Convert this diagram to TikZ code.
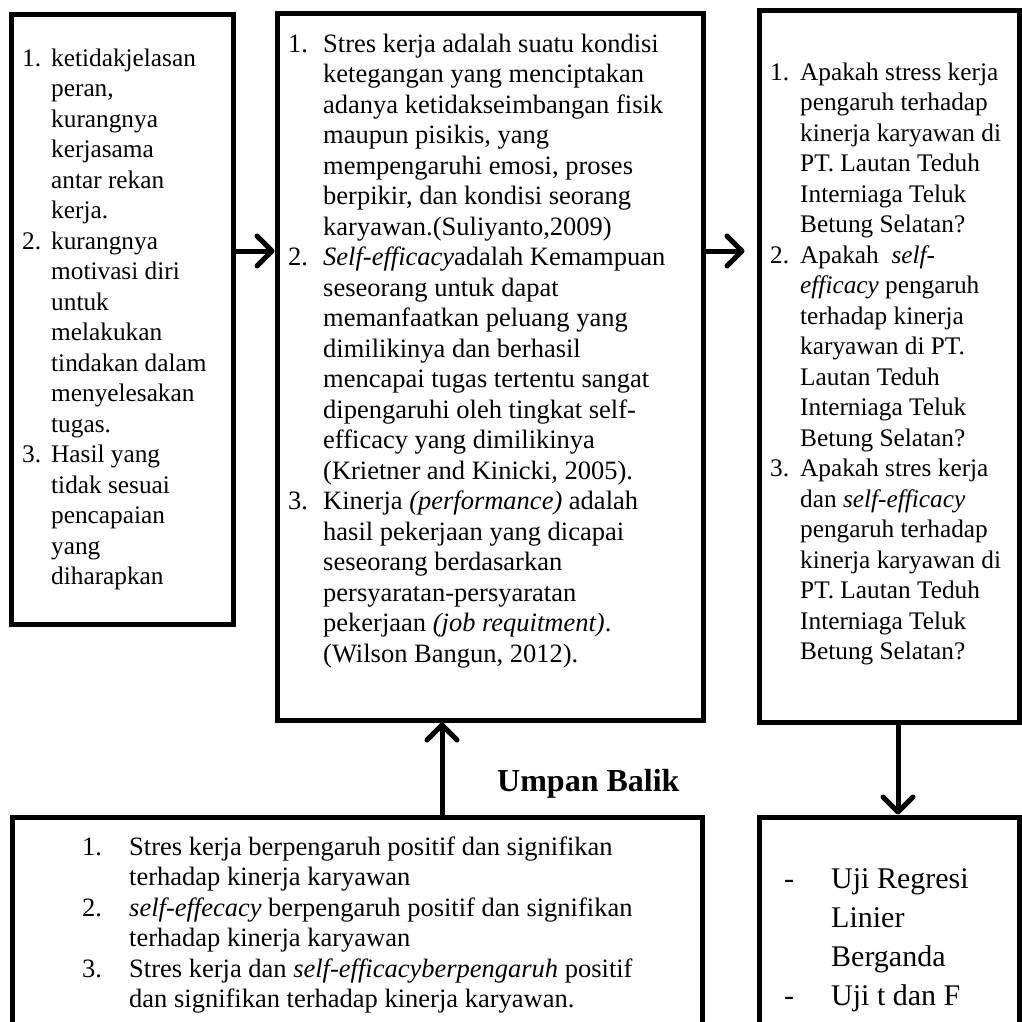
\documentclass[tikz,border=0pt]{standalone}
\usepackage{fontspec}
\setmainfont{Liberation Serif}
\usetikzlibrary{arrows.meta}
\newcommand\Ln[3]{\makebox[#1][l]{#2}#3}
\newcommand\Tb[1]{\begin{tabular}[t]{@{}l@{}}#1\end{tabular}}
\begin{document}
\begin{tikzpicture}[x=1pt,y=-1pt,
  box/.style={draw,line width=5pt,rectangle,inner sep=0pt},
  txt/.style={inner sep=0pt,anchor=base west,font=\fontsize{26.5}{30.5}\selectfont},
  narrow/.style={font=\fontsize{25.3}{30.5}\selectfont},
  arr/.style={line width=5pt,-{Straight Barb[length=15pt,width=30pt,round]}}]
\useasboundingbox (0,0) rectangle (1022,1021);
\clip (0,0) rectangle (1022,1021);
% boxes
\node[box,minimum width=222pt,minimum height=610pt] (b1) at (122,319) {};
\node[box,minimum width=426pt,minimum height=707pt] (b2) at (490,366.5) {};
\node[box,minimum width=260pt,minimum height=712pt] (b3) at (889,366) {};
\node[box,minimum width=260pt,minimum height=223pt] (b4) at (889,928.5) {};
\node[box,minimum width=690pt,minimum height=223pt] (b5) at (357,928.5) {};
% texts
\node[txt,narrow] (t1) at (22,66) {\Tb{%
\Ln{29pt}{1.}{ketidakjelasan}\\
\Ln{29pt}{}{peran,}\\
\Ln{29pt}{}{kurangnya}\\
\Ln{29pt}{}{kerjasama}\\
\Ln{29pt}{}{antar rekan}\\
\Ln{29pt}{}{kerja.}\\
\Ln{29pt}{2.}{kurangnya}\\
\Ln{29pt}{}{motivasi diri}\\
\Ln{29pt}{}{untuk}\\
\Ln{29pt}{}{melakukan}\\
\Ln{29pt}{}{tindakan dalam}\\
\Ln{29pt}{}{menyelesakan}\\
\Ln{29pt}{}{tugas.}\\
\Ln{29pt}{3.}{Hasil yang}\\
\Ln{29pt}{}{tidak sesuai}\\
\Ln{29pt}{}{pencapaian}\\
\Ln{29pt}{}{yang}\\
\Ln{29pt}{}{diharapkan}}};
\node[txt] (t2) at (288,52) {\Tb{%
\Ln{35pt}{1.}{Stres kerja adalah suatu kondisi}\\
\Ln{35pt}{}{ketegangan yang menciptakan}\\
\Ln{35pt}{}{adanya ketidakseimbangan fisik}\\
\Ln{35pt}{}{maupun pisikis, yang}\\
\Ln{35pt}{}{mempengaruhi emosi, proses}\\
\Ln{35pt}{}{berpikir, dan kondisi seorang}\\
\Ln{35pt}{}{karyawan.(Suliyanto,2009)}\\
\Ln{35pt}{2.}{\textit{Self-efficacy}adalah Kemampuan}\\
\Ln{35pt}{}{seseorang untuk dapat}\\
\Ln{35pt}{}{memanfaatkan peluang yang}\\
\Ln{35pt}{}{dimilikinya dan berhasil}\\
\Ln{35pt}{}{mencapai tugas tertentu sangat}\\
\Ln{35pt}{}{dipengaruhi oleh tingkat self-}\\
\Ln{35pt}{}{efficacy yang dimilikinya}\\
\Ln{35pt}{}{(Krietner and Kinicki, 2005).}\\
\Ln{35pt}{3.}{Kinerja \textit{(performance)} adalah}\\
\Ln{35pt}{}{hasil pekerjaan yang dicapai}\\
\Ln{35pt}{}{seseorang berdasarkan}\\
\Ln{35pt}{}{persyaratan-persyaratan}\\
\Ln{35pt}{}{pekerjaan \textit{(job requitment)}.}\\
\Ln{35pt}{}{(Wilson Bangun, 2012).}}};
\node[txt,narrow] (t3) at (770,80) {\Tb{%
\Ln{30pt}{1.}{Apakah stress kerja}\\
\Ln{30pt}{}{pengaruh terhadap}\\
\Ln{30pt}{}{kinerja karyawan di}\\
\Ln{30pt}{}{PT. Lautan Teduh}\\
\Ln{30pt}{}{Interniaga Teluk}\\
\Ln{30pt}{}{Betung Selatan?}\\
\Ln{30pt}{2.}{Apakah \ \textit{self-}}\\
\Ln{30pt}{}{\textit{efficacy} pengaruh}\\
\Ln{30pt}{}{terhadap kinerja}\\
\Ln{30pt}{}{karyawan di PT.}\\
\Ln{30pt}{}{Lautan Teduh}\\
\Ln{30pt}{}{Interniaga Teluk}\\
\Ln{30pt}{}{Betung Selatan?}\\
\Ln{30pt}{3.}{Apakah stres kerja}\\
\Ln{30pt}{}{dan \textit{self-efficacy}}\\
\Ln{30pt}{}{pengaruh terhadap}\\
\Ln{30pt}{}{kinerja karyawan di}\\
\Ln{30pt}{}{PT. Lautan Teduh}\\
\Ln{30pt}{}{Interniaga Teluk}\\
\Ln{30pt}{}{Betung Selatan?}}};
\node[txt,font=\fontsize{30}{39}\selectfont] (t4) at (784,888) {\Tb{%
\Ln{47pt}{-}{Uji Regresi}\\
\Ln{47pt}{}{Linier}\\
\Ln{47pt}{}{Berganda}\\
\Ln{47pt}{-}{Uji t dan F}}};
\node[txt] (t5) at (82,855) {\Tb{%
\Ln{47pt}{1.}{Stres kerja berpengaruh positif dan signifikan}\\
\Ln{47pt}{}{terhadap kinerja karyawan}\\
\Ln{47pt}{2.}{\textit{self-effecacy} berpengaruh positif dan signifikan}\\
\Ln{47pt}{}{terhadap kinerja karyawan}\\
\Ln{47pt}{3.}{Stres kerja dan \textit{self-efficacyberpengaruh} positif}\\
\Ln{47pt}{}{dan signifikan terhadap kinerja karyawan.}}};
\node[inner sep=0pt,anchor=base west,font=\fontsize{32}{32}\selectfont\bfseries] (ub) at (497,791) {Umpan Balik};
% connectors
\coordinate (h) at (0,251);
\coordinate (u) at (442,0);
\coordinate (v) at (898,0);
\draw[arr] (b1.east |- h) -- (b2.west |- h);
\draw[arr,shorten >=12pt] (b2.east |- h) -- (b3.west |- h);
\draw[arr] (b3.south -| v) -- (b4.north -| v);
\draw[arr] (b5.north -| u) -- (b2.south -| u);
\end{tikzpicture}
\end{document}
